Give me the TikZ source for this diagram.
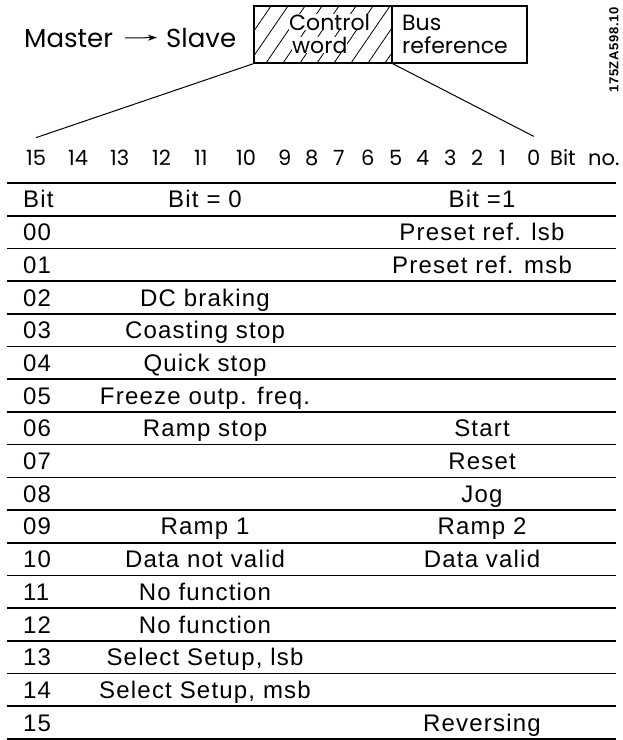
\documentclass[tikz,border=0pt]{standalone}
\usepackage{fontspec}
\setmainfont{Liberation Sans}[LetterSpace=5]
\newfontfamily\geofont{Poppins}
\usetikzlibrary{arrows.meta}
\newcommand{\tablegrid}{
  % Top rule
  \draw[line width=2pt] (7,183) -- (616,183);
  % Row rules
  \draw[line width=1.6pt] (7,215.7) -- (616,215.7)
                          (7,248.4) -- (616,248.4)
                          (7,281.1) -- (616,281.1)
                          (7,313.8) -- (616,313.8)
                          (7,346.5) -- (616,346.5)
                          (7,379.2) -- (616,379.2)
                          (7,411.9) -- (616,411.9)
                          (7,444.6) -- (616,444.6)
                          (7,477.3) -- (616,477.3)
                          (7,510.0) -- (616,510.0)
                          (7,542.7) -- (616,542.7)
                          (7,575.4) -- (616,575.4)
                          (7,608.1) -- (616,608.1)
                          (7,640.8) -- (616,640.8)
                          (7,673.5) -- (616,673.5)
                          (7,706.2) -- (616,706.2)
                          (7,738.9) -- (616,738.9);
}
\begin{document}
\begin{tikzpicture}[x=1pt,y=-1pt,
    head/.style={font=\geofont\fontsize{26}{26}\selectfont,inner sep=0pt,anchor=base west},
    boxtext/.style={font=\geofont\fontsize{22}{22}\selectfont,inner sep=0pt,anchor=base west},
    bitno/.style={font=\geofont\fontsize{21}{21}\selectfont,inner sep=0pt,anchor=base west},
    wordbox/.style={draw,line width=1.4pt,minimum height=57pt,inner sep=0pt},
    hatch/.style={line width=0.8pt},
    cell/.style={font=\fontsize{24}{24}\selectfont,inner sep=0pt,anchor=base},
    num/.style={cell,anchor=base west}]
  \useasboundingbox (0,0) rectangle (623,740);

  % Master to slave
  \node[head] (master) at (24,47) {Master};
  \node[head] (slave) at (166,47) {Slave};
  \draw[-{Stealth[length=9pt,width=6pt]},line width=1pt,shorten <=12pt,shorten >=9pt]
    (master.east) -- (slave.west);

  % The telegram words
  \node[wordbox,minimum width=138pt] (ctrl) at (323,34.5) {};
  \node[wordbox,minimum width=135pt] (busref) at (459.5,34.5) {};
  \begin{scope}
    \clip (ctrl.south west) rectangle (ctrl.north east);
    \draw[hatch] (215,63) -- ++(39,-57) (232,63) -- ++(39,-57)
                 (249,63) -- ++(39,-57) (266,63) -- ++(39,-57)
                 (283,63) -- ++(39,-57) (300,63) -- ++(39,-57)
                 (317,63) -- ++(39,-57) (334,63) -- ++(39,-57)
                 (351,63) -- ++(39,-57) (368,63) -- ++(39,-57)
                 (385,63) -- ++(39,-57);
  \end{scope}
  \node[boxtext,fill=white] (ctrltop) at (289,30) {Control};
  \node[boxtext,fill=white] (ctrlbot) at (292,53) {word};
  \node[boxtext] (bustop) at (402,30) {Bus};
  \node[boxtext] (busbot) at (402,53) {reference};

  % Drawing number
  \node[rotate=90,inner sep=0pt,font=\bfseries\fontsize{13}{13}\selectfont] (code) at (614,50) {175ZA598.10};

  % Bit numbers
  \path[every node/.style=bitno]
    (26,165) node (n15) {15}   (68,165) node (n14) {14}
    (110,165) node (n13) {13}  (152,165) node (n12) {12}
    (194,165) node (n11) {11}  (236,165) node (n10) {10}
    (278,165) node (n9) {9}    (305,165) node (n8) {8}
    (333,165) node (n7) {7}    (361,165) node (n6) {6}
    (389,165) node (n5) {5}    (416,165) node (n4) {4}
    (444,165) node (n3) {3}    (471,165) node (n2) {2}
    (499,165) node (n1) {1}    (527,165) node (n0) {0}
    (550,165) node (bitno) {Bit} (588,165) node (no) {no.};
  \draw[line width=1pt] (ctrl.south west) -- ([yshift=12pt]n15.north);
  \draw[line width=1pt] (ctrl.south east) -- ([yshift=13pt]n0.north);

  % The table
  \tablegrid
  \node[num] (hbit) at (23,207.9) {Bit};
  \node[cell] (hzero) at (205,207.9) {Bit = 0};
  \node[cell] (hone) at (482,207.9) {Bit =1};
  \node[num] (r00) at (23,240.6) {00};  \node[cell] (r00b) at (482,240.6) {Preset ref. lsb};
  \node[num] (r01) at (23,273.3) {01};  \node[cell] (r01b) at (482,273.3) {Preset ref. msb};
  \node[num] (r02) at (23,306.0) {02};  \node[cell] (r02a) at (205,306.0) {DC braking};
  \node[num] (r03) at (23,338.7) {03};  \node[cell] (r03a) at (205,338.7) {Coasting stop};
  \node[num] (r04) at (23,371.4) {04};  \node[cell] (r04a) at (205,371.4) {Quick stop};
  \node[num] (r05) at (23,404.1) {05};  \node[cell] (r05a) at (205,404.1) {Freeze outp. freq.};
  \node[num] (r06) at (23,436.8) {06};  \node[cell] (r06a) at (205,436.8) {Ramp stop};
                                        \node[cell] (r06b) at (482,436.8) {Start};
  \node[num] (r07) at (23,469.5) {07};  \node[cell] (r07b) at (482,469.5) {Reset};
  \node[num] (r08) at (23,502.2) {08};  \node[cell] (r08b) at (482,502.2) {Jog};
  \node[num] (r09) at (23,534.9) {09};  \node[cell] (r09a) at (205,534.9) {Ramp 1};
                                        \node[cell] (r09b) at (482,534.9) {Ramp 2};
  \node[num] (r10) at (23,567.6) {10};  \node[cell] (r10a) at (205,567.6) {Data not valid};
                                        \node[cell] (r10b) at (482,567.6) {Data valid};
  \node[num] (r11) at (23,600.3) {11};  \node[cell] (r11a) at (205,600.3) {No function};
  \node[num] (r12) at (23,633.0) {12};  \node[cell] (r12a) at (205,633.0) {No function};
  \node[num] (r13) at (23,665.7) {13};  \node[cell] (r13a) at (205,665.7) {Select Setup, lsb};
  \node[num] (r14) at (23,698.4) {14};  \node[cell] (r14a) at (205,698.4) {Select Setup, msb};
  \node[num] (r15) at (23,731.1) {15};  \node[cell] (r15b) at (482,731.1) {Reversing};
\end{tikzpicture}
\end{document}
